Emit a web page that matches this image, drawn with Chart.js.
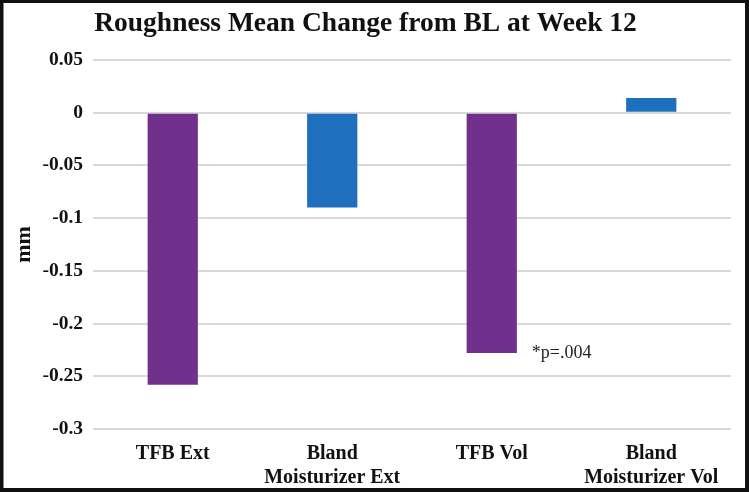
<!DOCTYPE html>
<html>
<head>
<meta charset="utf-8">
<script src="https://cdn.jsdelivr.net/npm/chart.js@4/dist/chart.umd.min.js"></script>
<style>
  html, body { margin: 0; padding: 0; background: #fff; }
  #wrap { width: 749px; height: 492px; }
</style>
</head>
<body>
<div id="wrap"><canvas id="roughChart"></canvas></div>
<script>
// chart data
const categories = [['TFB Ext'], ['Bland', 'Moisturizer Ext'], ['TFB Vol'], ['Bland', 'Moisturizer Vol']];
const meanChange = [-0.258, -0.09, -0.228, 0.014];
const barColors = ['#70308b', '#1f6fbf', '#70308b', '#1f6fbf'];
const yTicks = [0.05, 0, -0.05, -0.1, -0.15, -0.2, -0.25, -0.3];
const pNote = '*p=.004';
const pNoteIndex = 2;

const serif = "'Liberation Serif', 'Times New Roman', serif";

// white background + black frame
const framePlugin = {
    id: 'frame',
    beforeDraw(chart) {
        const c = chart.ctx;
        c.save();
        c.fillStyle = '#fff';
        c.fillRect(0, 0, chart.width, chart.height);
        c.restore();
    },
    afterDraw(chart) {
        const c = chart.ctx;
        c.save();
        c.strokeStyle = '#111';
        c.lineWidth = 4;
        c.strokeRect(1.5, 1, chart.width - 3.5, chart.height - 3);
        c.restore();
    }
};

// p-value note next to the TFB Vol bar
const notePlugin = {
    id: 'pnote',
    afterDatasetsDraw(chart) {
        const bar = chart.getDatasetMeta(0).data[pNoteIndex];
        if (!bar) return;
        const c = chart.ctx;
        c.save();
        c.font = '18px ' + serif;
        c.fillStyle = '#222';
        c.textBaseline = 'middle';
        c.fillText(pNote, bar.x + bar.width / 2 + 15, bar.y);
        c.restore();
    }
};

const ctx = document.getElementById('roughChart').getContext('2d');
new Chart(ctx, {
    type: 'bar',
    data: {
        labels: categories,
        datasets: [{
            data: meanChange,
            backgroundColor: barColors,
            borderWidth: 0,
            barPercentage: 0.315,
            categoryPercentage: 1
        }]
    },
    options: {
        responsive: true,
        maintainAspectRatio: false,
        animation: false,
        layout: { padding: { left: 0, right: 18, top: 0, bottom: 0 } },
        plugins: {
            legend: { display: false },
            tooltip: { enabled: false },
            title: {
                display: true,
                text: 'Roughness Mean Change from BL at Week 12',
                color: '#111',
                font: { family: serif, size: 27.5, weight: 'bold' },
                padding: { top: 7, bottom: 20 }
            }
        },
        scales: {
            x: {
                grid: { display: false },
                border: { display: false },
                ticks: {
                    color: '#111',
                    font: { family: serif, size: 20, weight: 'bold', lineHeight: 1.2 },
                    padding: 5,
                    maxRotation: 0,
                    autoSkip: false
                },
                afterFit(scale) { scale.height = 63; }
            },
            y: {
                min: -0.3,
                max: 0.05,
                afterBuildTicks(scale) {
                    scale.ticks = yTicks.map(v => ({ value: v }));
                },
                grid: { color: '#d9d9d9', lineWidth: 2, drawTicks: false },
                border: { display: false },
                ticks: {
                    color: '#111',
                    padding: 10,
                    font: { family: serif, size: 19.5, weight: 'bold' },
                    callback: v => String(parseFloat(v.toFixed(2)))
                },
                title: {
                    display: true,
                    text: 'mm',
                    color: '#111',
                    font: { family: serif, size: 22, weight: 'bold' },
                    padding: { top: 11, bottom: 0 }
                },
                afterFit(scale) { scale.width = 93; }
            }
        }
    },
    plugins: [framePlugin, notePlugin]
});
</script>
</body>
</html>
